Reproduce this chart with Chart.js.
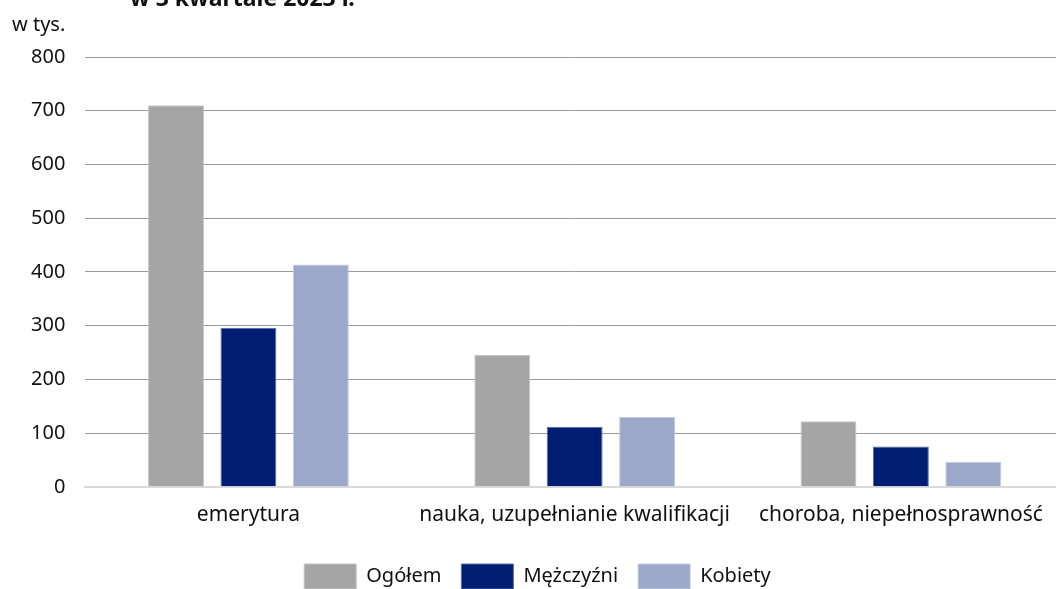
<!DOCTYPE html>
<html>
<head>
<meta charset="utf-8">
<script src="https://cdn.jsdelivr.net/npm/chart.js@4/dist/chart.umd.min.js"></script>
<style>
	html, body { margin: 0; padding: 0; background: #fff; overflow: hidden; }
	#wrap { position: relative; width: 1064px; height: 599px; }
</style>
</head>
<body>
<div id="wrap"><canvas id="wykres"></canvas></div>
<script>
var kategorie = ['emerytura', 'nauka, uzupełnianie kwalifikacji', 'choroba, niepełnosprawność'];
var ogolem = [710, 246, 122];
var mezczyzni = [296, 112, 75];
var kobiety = [414, 130, 46];
var etykietySerii = ['Ogółem', 'Mężczyźni', 'Kobiety'];
var tytul = 'w 3 kwartale 2023 r.';
var jednostka = 'w tys.';

var czcionka = '"Noto Sans", "DejaVu Sans", sans-serif';

// napisy poza osiami: ucięty tytuł i jednostka
var naglowek = {
	id: 'naglowek',
	afterDraw: function (chart) {
		var ctx = chart.ctx;
		ctx.save();
		ctx.fillStyle = '#111';
		ctx.textBaseline = 'alphabetic';
		ctx.textAlign = 'left';
		ctx.font = 'bold 23px ' + czcionka;
		ctx.fillText(tytul, 130, 6);
		ctx.font = '20px ' + czcionka;
		ctx.fillText(jednostka, 12, 31);
		ctx.restore();
	}
};

new Chart(document.getElementById('wykres'), {
	type: 'bar',
	data: {
		labels: kategorie,
		datasets: [
			{ label: etykietySerii[0], data: ogolem, backgroundColor: '#a5a5a5', borderColor: '#c4c4c4', borderWidth: 1 },
			{ label: etykietySerii[1], data: mezczyzni, backgroundColor: '#001d74', borderColor: '#5a6fa8', borderWidth: 1 },
			{ label: etykietySerii[2], data: kobiety, backgroundColor: '#9ba8ca', borderColor: '#c2cbe2', borderWidth: 1 }
		]
	},
	options: {
		responsive: true,
		maintainAspectRatio: false,
		animation: false,
		categoryPercentage: 0.666,
		barPercentage: 0.772,
		layout: { padding: { left: 11, right: 0, top: 57, bottom: 0 } },
		plugins: {
			title: { display: false },
			tooltip: { enabled: false },
			legend: {
				position: 'bottom',
				labels: {
					boxWidth: 52,
					boxHeight: 25,
					padding: 20,
					color: '#111',
					font: { family: czcionka, size: 20 }
				}
			}
		},
		scales: {
			x: {
				grid: { display: false },
				border: { display: true, color: '#d9d9d9', width: 2 },
				ticks: { color: '#111', padding: 8, font: { family: czcionka, size: 21 } },
				afterFit: function (skala) { skala.height += 8; }
			},
			y: {
				min: 0,
				max: 800,
				border: { display: false },
				grid: { color: '#9a9a9a', drawTicks: false },
				ticks: { stepSize: 100, color: '#111', padding: 20, font: { family: czcionka, size: 20 } }
			}
		}
	},
	plugins: [naglowek]
});
</script>
</body>
</html>
